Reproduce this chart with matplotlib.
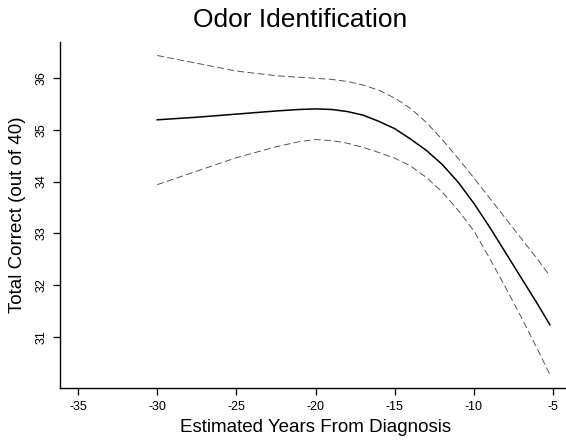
import matplotlib
matplotlib.use("Agg")
import matplotlib.pyplot as plt

# fitted trajectory with its confidence band
years = [-30, -27.5, -25, -22.5, -21, -20, -19, -18, -17, -16, -15, -14, -13,
         -12, -11, -10, -9, -8, -7, -6, -5.2]
fit = [35.19, 35.24, 35.30, 35.36, 35.39, 35.40, 35.39, 35.35, 35.28, 35.16, 35.02,
       34.82, 34.60, 34.33, 33.99, 33.58, 33.12, 32.63, 32.14, 31.65, 31.24]
upper = [36.43, 36.28, 36.13, 36.04, 36.01, 35.99, 35.97, 35.93, 35.86, 35.76, 35.61,
         35.41, 35.14, 34.81, 34.45, 34.07, 33.68, 33.29, 32.90, 32.51, 32.18]
lower = [33.94, 34.20, 34.46, 34.67, 34.77, 34.81, 34.79, 34.74, 34.66, 34.56, 34.45,
         34.30, 34.08, 33.80, 33.45, 33.05, 32.52, 31.96, 31.38, 30.78, 30.28]

x_ticks = [-35, -30, -25, -20, -15, -10, -5]
y_ticks = [31, 32, 33, 34, 35, 36]

plt.rcParams["font.family"] = ["Liberation Sans", "DejaVu Sans"]

W, H = 566, 443
fig = plt.figure(figsize=(W / 100, H / 100), dpi=100)
ax = fig.add_axes([60 / W, 1 - 388 / H, 506 / W, (388 - 42) / H])

ax.plot(years, fit, color="black", lw=1.1, solid_joinstyle="round")
for band in (upper, lower):
    ax.plot(years, band, color="#555555", lw=0.7, dashes=(7, 3.5))

ax.set_xlim(-36.14, -4.18)
ax.set_ylim(30.02, 36.69)
ax.set_xticks(x_ticks)
ax.set_yticks(y_ticks)
ax.set_xticklabels([str(t) for t in x_ticks])
ax.set_yticklabels([str(t) for t in y_ticks], rotation=90, va="center")

for side in ("top", "right"):
    ax.spines[side].set_visible(False)
for side in ("left", "bottom"):
    ax.spines[side].set_linewidth(1.0)
ax.tick_params(direction="out", length=5, width=0.9, labelsize=9, pad=4)

fig.text(300 / W, 1 - 20 / H, "Odor Identification", ha="center", va="center", fontsize=19)
fig.text(316 / W, 1 - 428 / H, "Estimated Years From Diagnosis", ha="center", va="center", fontsize=13.5)
fig.text(18 / W, 1 - 215 / H, "Total Correct (out of 40)", ha="center", va="center",
         rotation=90, fontsize=13.5)

fig.savefig("out.png", dpi=100, facecolor="white")
